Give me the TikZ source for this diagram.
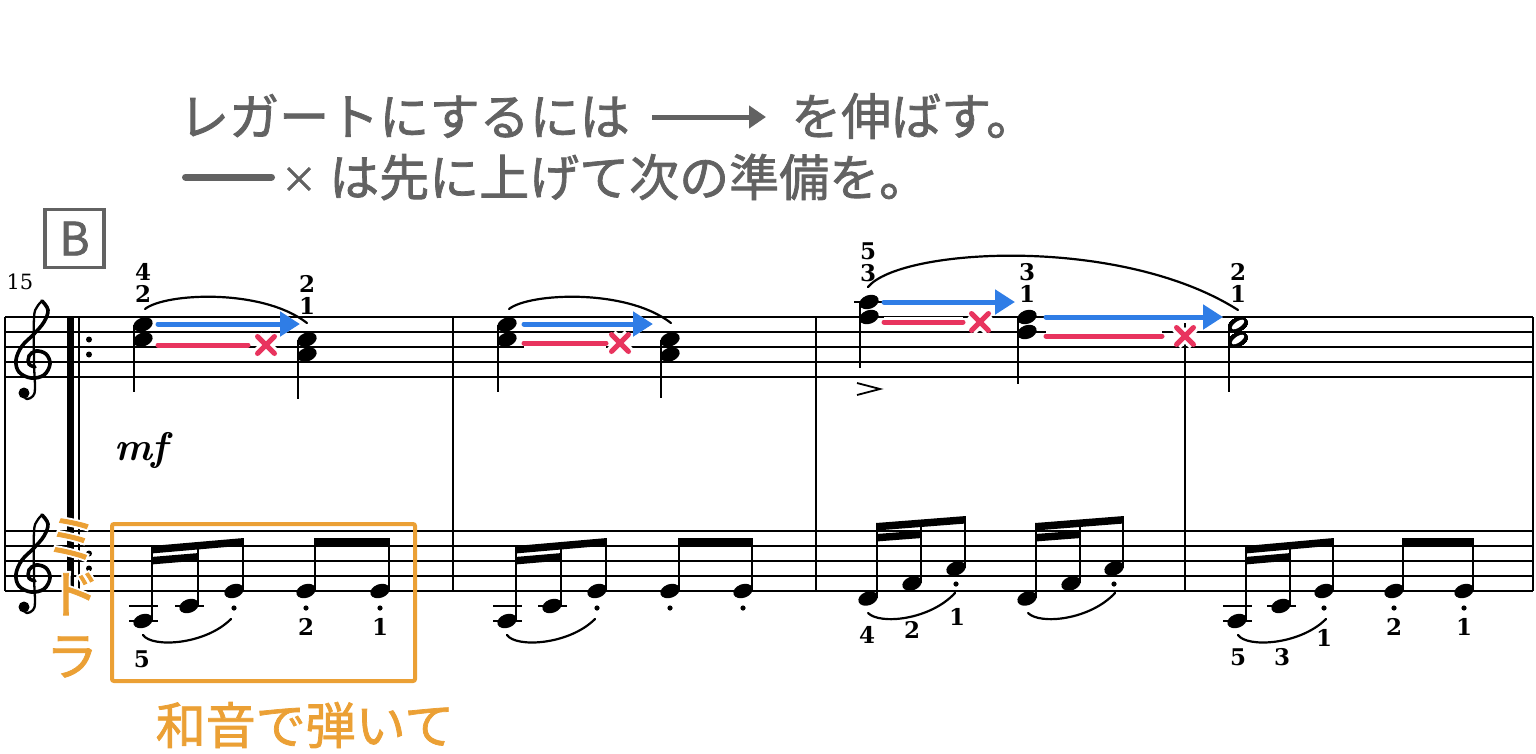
\documentclass[tikz,border=0pt]{standalone}
\usepackage{fontspec}
\usepackage{tikz}
\usetikzlibrary{arrows.meta}
\newfontfamily\jp[FakeBold=1.5]{Noto Sans CJK JP}
\newfontfamily\jphalo[FakeBold=9]{Noto Sans CJK JP}
\newfontfamily\fingfont{DejaVu Serif}
\definecolor{legato}{HTML}{2F7DE6}
\definecolor{lift}{HTML}{E8345E}
\definecolor{hint}{HTML}{EBA035}
\definecolor{memo}{HTML}{626262}
\newcommand\head[2]{\fill[rotate around={20:(#1,#2)}] (#1,#2) ellipse (10 and 6.8);}
\newcommand\halfhead[2]{\head{#1}{#2}\fill[white,rotate around={35:(#1,#2)}] (#1,#2) ellipse (7.2 and 3);}
\newcommand\beam[4]{\fill (#1-0.9,#2) -- (#3+0.9,#4) -- (#3+0.9,#4+7.5) -- (#1-0.9,#2+7.5) -- cycle;}
\newcommand\liftx[2]{\draw[liftline] (#1-8.5,#2-8.5) -- (#1+8.5,#2+8.5) (#1-8.5,#2+8.5) -- (#1+8.5,#2-8.5);}

\begin{document}
\begin{tikzpicture}[x=1pt,y=-1pt,
  staffline/.style={line width=1.5pt},
  barline/.style={line width=2pt},
  stem/.style={line width=1.6pt},
  ledger/.style={line width=2pt},
  slur/.style={line width=2.2pt,line cap=round},
  fing/.style={font=\fingfont\fontsize{23}{23}\selectfont\bfseries,inner sep=0pt},
  jtext/.style={font=\jp\fontsize{50}{50}\selectfont,inner sep=0pt},
  halo/.style={preaction={draw=white,line width=11pt}},
  legatoarrow/.style={halo,draw=legato,line width=5pt,line cap=round,-{Triangle[length=20pt,width=24pt]}},
  liftline/.style={halo,draw=lift,line width=5pt,line cap=round},
  pics/gclef/.style={code={
    \draw[line width=3.6pt,line cap=round] plot[smooth,tension=0.6] coordinates {(9,-61) (15,-52) (11,-40) (1,-28) (-11,-16) (-17,-2) (-14,10) (-2,16) (11,13) (17,2) (13,-8) (3,-11) (-4,-6) (-4,2) (2,5)};
    \draw[line width=2.3pt] plot[smooth,tension=0.6] coordinates {(9,-61) (4,-55) (1,-44) (1,0) (2,26) (0,34) (-6,37) (-10,33)};
    \fill (-9,31) circle (5.5);
  }}]
\useasboundingbox (0,0) rectangle (1536,753);

% staves and bars
\foreach \s in {317,531}
  \foreach \k in {0,...,4}
    \draw[staffline] (5,\s+15*\k) -- (1533,\s+15*\k);
\foreach \x in {5,453,816,1185,1533}
  \draw[barline] (\x,317) -- (\x,591);
\fill (67,317) rectangle (74,591);
\draw[barline] (79,317) -- (79,591);
\foreach \y in {339.5,354.5,553.5,568.5}
  \fill (89,\y) circle (3);
\pic at (33,362) {gclef};
\pic at (33,576) {gclef};

% slurs
\draw[slur] (145,309) .. controls (165,293) and (262,288) .. (307,323);
\draw[slur] (509,309) .. controls (529,293) and (626,288) .. (671,323);
\draw[slur] (868,287) .. controls (900,248) and (1120,235) .. (1238,310);
\foreach \x in {143,507,1238}
  \draw[slur] (\x,635) .. controls (\x+9,648) and (\x+62,645) .. (\x+88,619);
\foreach \x in {868,1028}
  \draw[slur] (\x,613) .. controls (\x+12,625) and (\x+62,620) .. (\x+87,593);

% ledger lines
\foreach \x/\y in {854/302,129/606,129/621,175/606,493/606,493/621,538/606,1223/606,1223/621,1267/606}
  \draw[ledger] (\x,\y) -- +(29,0);

% keep / lift marks
\foreach \xa/\xb/\xc/\xd/\yb/\yr in {158/300/248/266/324/345,524/653/606/620/324/343,884/1015/963/980/302/322,1046/1223/1162/1185/317/336}{
  \draw[legatoarrow] (\xa,\yb) -- (\xb,\yb);
  \draw[liftline] (\xa,\yr) -- (\xc,\yr);
  \liftx{\xd}{\yr}
}

% right hand
\foreach \x/\y in {143/324.5,143/339.5,307/339.5,307/354.5,507/324.5,507/339.5,670/339.5,670/354.5,869/302,869/317,1027/317,1027/332}
  \head{\x}{\y}
\halfhead{1238}{324.5}
\halfhead{1238}{339.5}
\foreach \x/\a/\b in {134/325/392,298/340/399,498/325/392,661/340/398,860/302/368,1018/317/384,1229/325/392}
  \draw[stem] (\x,\a) -- (\x,\b);
\draw[line width=1.8pt] (857,383) -- (880,389) -- (857,395);

% left hand
\foreach \x/\y/\t in {143/621/546,189/606/542,234/591/538,306/591/538,380/591/538,
  507/621/546,552/606/542,597/591/538,670/591/538,743/591/538,
  868/598.5/523,912/583.5/519.5,956/568.5/516,1027/598.5/523,1071/583.5/519.5,1114/568.5/516,
  1237/621/546,1281/606/542,1324/591/538,1394/591/538,1464/591/538}{
  \head{\x}{\y}
  \draw[stem] (\x+9,\y-1) -- (\x+9,\t);
}
\beam{152}{546}{243}{538} \beam{152}{557}{198}{553} \beam{315}{538}{389}{538}
\beam{516}{546}{606}{538} \beam{516}{557}{561}{553} \beam{679}{538}{752}{538}
\beam{877}{523}{965}{516} \beam{877}{534}{921}{530.5}
\beam{1036}{523}{1123}{516} \beam{1036}{534}{1080}{530.5}
\beam{1246}{546}{1333}{538} \beam{1246}{557}{1290}{553} \beam{1403}{538}{1473}{538}
\foreach \x/\y in {234/608,306/608,380/608,597/608,670/608,743/608,956/584,1114/584,1324/608,1394/608,1464/608}
  \fill (\x,\y) circle (2.6);

% fingering, dynamics, bar number
\foreach \x/\y/\t [count=\i] in {143/272/4,143/294/2,307/284/2,307/306/1,868/251/5,868/273/3,1027/272/3,1027/294/1,1238/272/2,1238/294/1,
  142/659/5,306/627/2,380/627/1,867/635/4,912/630/2,957/617/1,1238/657/5,1282/657/3,1324/638/1,1394/627/2,1464/627/1}
  \node[fing] (fg\i) at (\x,\y) {\t};
\node[font=\fontsize{40}{40}\selectfont\bfseries\itshape,inner sep=0pt] (dyn) at (141,450) {mf};
\node[font=\fingfont\fontsize{21}{21}\selectfont,inner sep=0pt] (barno) at (20,282) {15};
\node[draw=memo,line width=3.2pt,minimum width=59pt,minimum height=58pt,inner sep=0pt,text=memo,font=\jp\fontsize{46}{46}\selectfont] (secB) at (74.5,238.5) {B};

% orange hints
\draw[hint,line width=4pt,rounded corners=2pt] (112,524) rectangle (415,681);
\node[jtext,text=hint] (chordhint) at (305,725) {和音で弾いて};
\foreach \t/\x/\y [count=\i] in {ミ/72/539,ド/74/594,ラ/72/657}{
  \node[jtext,text=white,font=\jphalo\fontsize{52}{52}\selectfont] (halo\i) at (\x,\y) {\t};
  \node[jtext,text=hint,font=\jp\fontsize{52}{52}\selectfont] (mdr\i) at (\x,\y) {\t};
}

% instructions
\node[jtext,text=memo,anchor=west] (keep) at (179,116) {レガートにするには};
\draw[draw=memo,line width=5pt,-{Triangle[length=17pt,width=22pt]}] (652,117) -- (766,117);
\node[jtext,text=memo,anchor=west] (keep2) at (791,116) {を伸ばす。};
\draw[memo,line width=7pt,line cap=round] (185.5,177) -- (271.5,177);
\node[jtext,text=memo,font=\jp\fontsize{36}{36}\selectfont] (cross) at (299,180) {×};
\node[jtext,text=memo,anchor=west] (lift) at (329,177) {は先に上げて次の準備を。};
\end{tikzpicture}
\end{document}
